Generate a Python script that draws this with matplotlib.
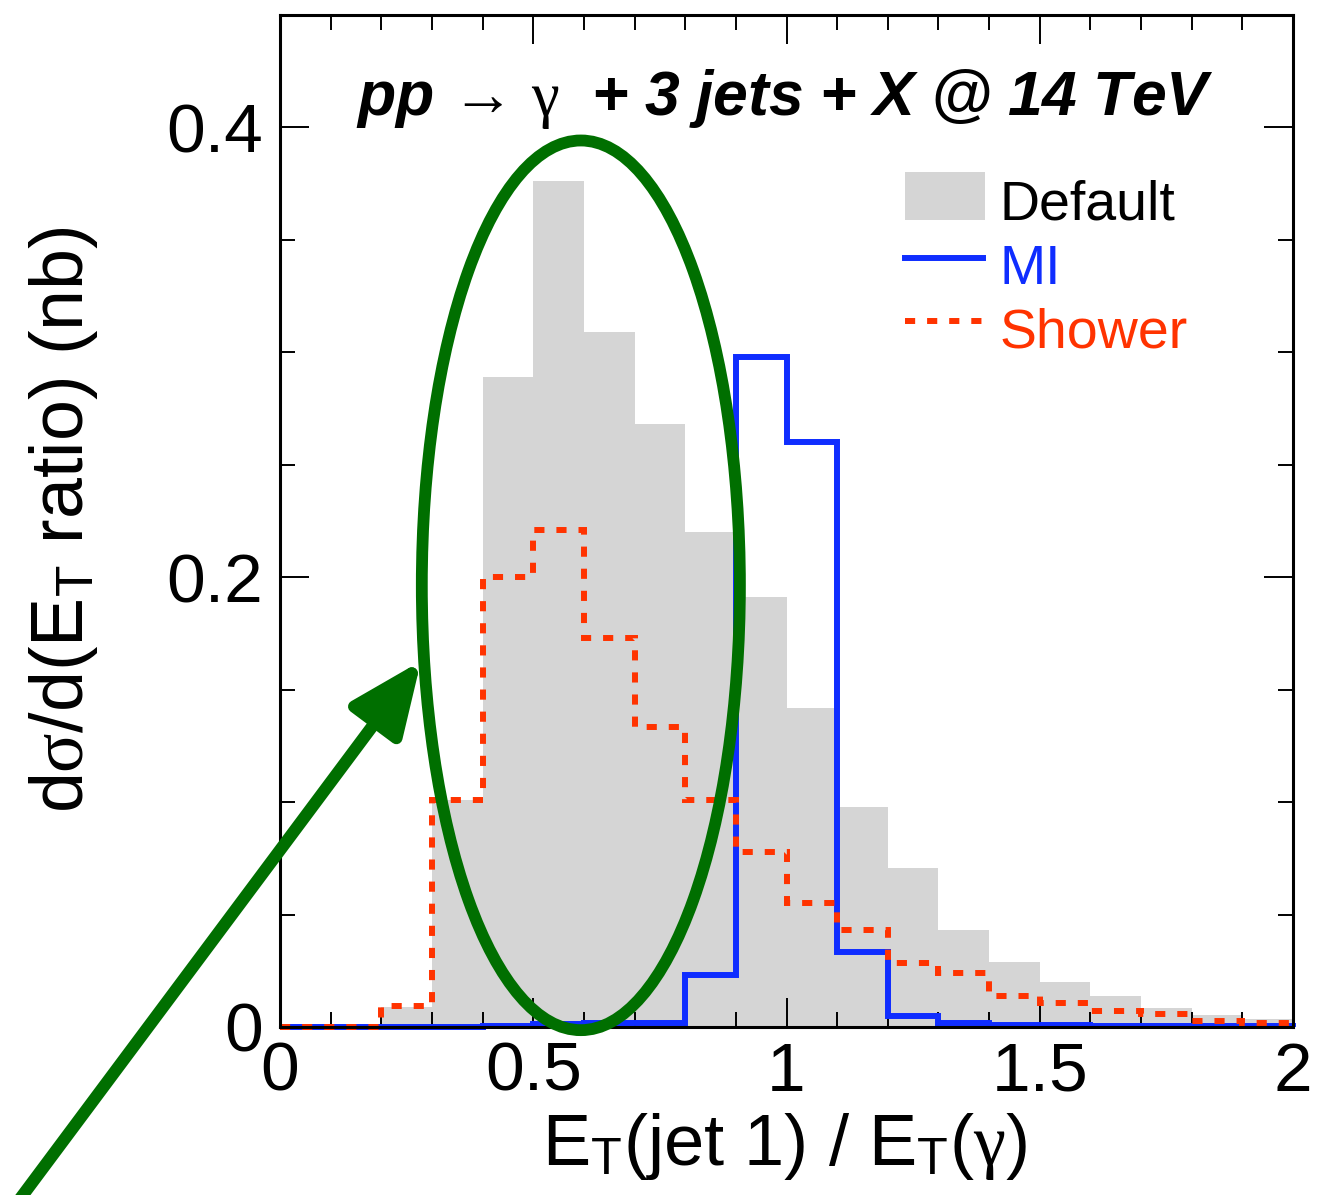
import numpy as np
import matplotlib
matplotlib.use("Agg")
import matplotlib.pyplot as plt
from matplotlib.patches import Ellipse, Rectangle, FancyArrowPatch, ArrowStyle
from matplotlib.lines import Line2D
from matplotlib.ticker import MultipleLocator, FixedLocator

# Binning of E_T(jet 1) / E_T(gamma)
bin_edges = np.round(np.arange(0.0, 2.001, 0.1), 2)

# d sigma / d(E_T ratio) in nb, one value per bin
default_vals = [0.0, 0.0, 0.009, 0.101, 0.289, 0.376, 0.309, 0.268, 0.220, 0.191,
                0.142, 0.098, 0.0707, 0.043, 0.029, 0.020, 0.014, 0.0085, 0.0053, 0.0036]
mi_vals = [0.0002, 0.0002, 0.0002, 0.0002, 0.0005, 0.0015, 0.002, 0.002, 0.023, 0.298,
           0.260, 0.0334, 0.005, 0.0018, 0.001, 0.001, 0.0003, 0.0003, 0.0003, 0.0003]
shower_vals = [0.0, 0.0, 0.0095, 0.101, 0.200, 0.221, 0.173, 0.1335, 0.101, 0.078,
               0.055, 0.043, 0.0285, 0.024, 0.0138, 0.0106, 0.0071, 0.0058, 0.0027, 0.0018]

x_ticks = [0, 0.5, 1, 1.5, 2]
x_tick_labels = ["0", "0.5", "1", "1.5", "2"]
y_ticks = [0, 0.2, 0.4]
y_tick_labels = ["0", "0.2", "0.4"]

series_names = ["Default", "MI", "Shower"]

GRAY = "#d5d5d5"
BLUE = "#0f2dff"
RED = "#ff3300"
GREEN = "#006f00"

plt.rcParams["font.family"] = ["Liberation Sans", "DejaVu Sans"]
plt.rcParams["mathtext.fontset"] = "custom"
plt.rcParams["mathtext.rm"] = "Liberation Sans"
plt.rcParams["mathtext.it"] = "Liberation Serif"
plt.rcParams["mathtext.bf"] = "Liberation Sans:style=italic:weight=bold"

W, H = 1323, 1195
fig = plt.figure(figsize=(W / 100, H / 100), dpi=100)
ax = fig.add_axes([280 / W, (H - 1027) / H, (1293 - 280) / W, (1027 - 15) / H])

# histograms
ax.stairs(default_vals, bin_edges, fill=True, color=GRAY, lw=0, zorder=1)
ax.stairs(mi_vals, bin_edges, color=BLUE, lw=4.3, zorder=3, clip_on=False)
ax.stairs(shower_vals, bin_edges, color=RED, lw=4.3, ls=(0, (1.7, 2.0)),
          zorder=4, clip_on=False)

ax.set_xlim(0, 2)
ax.set_ylim(0, 0.45)
ax.xaxis.set_major_locator(FixedLocator(x_ticks))
ax.set_xticklabels(x_tick_labels)
ax.xaxis.set_minor_locator(MultipleLocator(0.1))
ax.yaxis.set_major_locator(FixedLocator(y_ticks))
ax.set_yticklabels(y_tick_labels)
ax.yaxis.set_minor_locator(MultipleLocator(0.05))

ax.tick_params(which="both", direction="in", top=True, right=True,
               width=1.4, color="black")
ax.tick_params(which="major", length=21, labelsize=50)
ax.tick_params(which="minor", length=11)
ax.tick_params(axis="x", which="major", pad=10)
ax.tick_params(axis="y", which="major", pad=12)
for s in ax.spines.values():
    s.set_linewidth(2.2)
    s.set_zorder(6)

# axis titles
fig.text(785 / W, 1 - 1165 / H, r"E$_{\mathrm{T}}$(jet 1) / E$_{\mathrm{T}}$($\gamma$)",
         fontsize=52, ha="center", va="baseline")
fig.text(64 / W, 1 - 520 / H, r"d$\sigma$/d(E$_{\mathrm{T}}$ ratio) (nb)",
         fontsize=53, ha="center", va="center", rotation=90)

# process label
ax.text(0.4985, 0.901,
        r"$\mathbf{pp}\,\rightarrow\,\gamma\ \ \mathbf{{+}\ 3\ jets\ {+}\ X\ @\ 14\ TeV}$",
        transform=ax.transAxes, fontsize=45, ha="center", va="baseline", zorder=7)

# legend
def axfrac(px, py):
    return (px - 280) / 1013, (1027 - py) / 1012

x0, y0 = axfrac(905, 220)
x1, y1 = axfrac(985, 172)
ax.add_patch(Rectangle((x0, y0), x1 - x0, y1 - y0, transform=ax.transAxes,
                       color=GRAY, lw=0, zorder=7))
lx0, ly = axfrac(905, 258)
lx1, _ = axfrac(983, 258)
ax.add_line(Line2D([lx0, lx1], [ly, ly], transform=ax.transAxes, color=BLUE, lw=4.3, zorder=7))
_, ly = axfrac(905, 321)
ax.add_line(Line2D([lx0, lx1], [ly, ly], transform=ax.transAxes, color=RED, lw=4.3,
                   ls=(0, (1.7, 2.0)), zorder=7))
for name, color, base in zip(series_names, ["black", BLUE, RED], [219, 284, 347]):
    tx, ty = axfrac(1000, base)
    ax.text(tx, ty, name, transform=ax.transAxes, fontsize=40, color=color,
            ha="left", va="baseline", zorder=7)

# highlighted region and pointer
ax.add_patch(Ellipse((0.594, 0.1964), width=0.628, height=0.3956, fill=False,
                     ec=GREEN, lw=8.5, clip_on=False, zorder=8))
arrow = FancyArrowPatch(posA=(8, -20), posB=(421, H - 661),
                        arrowstyle=ArrowStyle("-|>", head_length=44, head_width=19),
                        mutation_scale=1, shrinkA=0, shrinkB=0,
                        color=GREEN, lw=8.8, transform=None, zorder=10)
fig.add_artist(arrow)

fig.savefig("out.png", dpi=100)
